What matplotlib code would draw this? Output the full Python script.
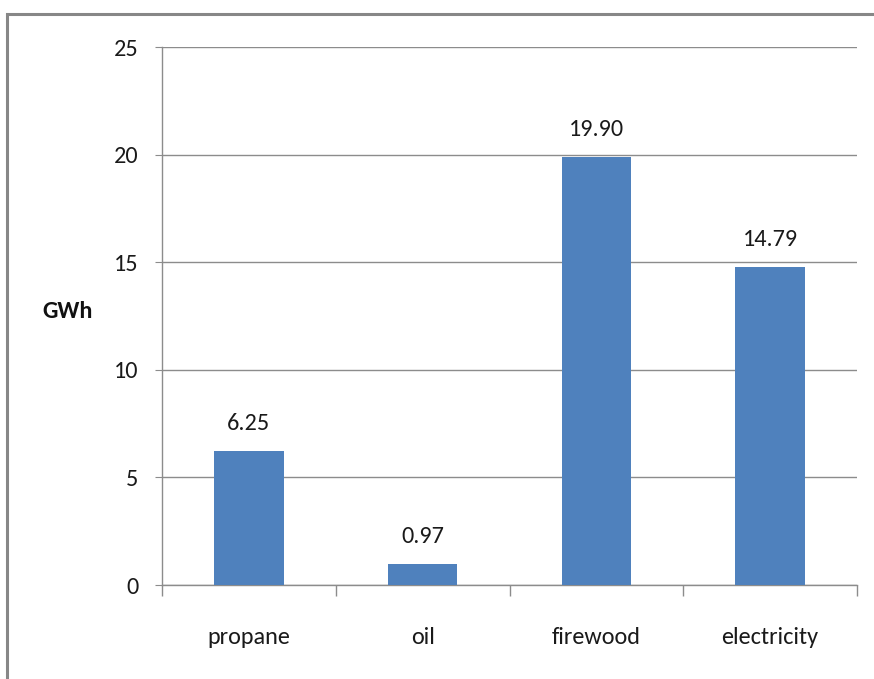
import matplotlib
matplotlib.use("Agg")
import matplotlib.pyplot as plt
from matplotlib import font_manager
from matplotlib.patches import Rectangle

categories = ["propane", "oil", "firewood", "electricity"]
values = [6.25, 0.97, 19.90, 14.79]
y_ticks = [0, 5, 10, 15, 20, 25]

names = {f.name for f in font_manager.fontManager.ttflist}
font = "Carlito" if "Carlito" in names else "DejaVu Sans"
plt.rcParams["font.family"] = [font, "DejaVu Sans"]

W, H = 874, 679
FS = 17.5
fig = plt.figure(figsize=(W / 100, H / 100), dpi=100)

# outer chart frame
fig.patches.append(Rectangle((7 / W, -0.1), 1.0, 1 - 13.5 / H + 0.1,
                             transform=fig.transFigure, fill=False,
                             edgecolor="#878787", linewidth=2.2))

left, right, top, bottom = 162, 857, 47, 585
ax = fig.add_axes([left / W, 1 - bottom / H, (right - left) / W, (bottom - top) / H])

x = list(range(len(categories)))
ax.bar(x, values, width=0.4, color="#4F81BD", zorder=3)
for xi, v in zip(x, values):
    ax.annotate(f"{v:.2f}", (xi, v), xytext=(0, 12), textcoords="offset points",
                ha="center", va="bottom", fontsize=FS, color="#1a1a1a")

ax.set_xlim(-0.5, len(categories) - 0.5)
ax.set_ylim(0, 25)
ax.set_yticks(y_ticks)
ax.set_yticklabels([str(t) for t in y_ticks], fontsize=FS, color="#1a1a1a")
ax.yaxis.grid(True, color="#8c8c8c", linewidth=1.0, zorder=0)
ax.tick_params(axis="y", length=5, color="#8c8c8c", pad=12)

ax.set_xticks(x)
ax.set_xticklabels(categories, fontsize=FS, color="#1a1a1a")
ax.tick_params(axis="x", length=0, pad=30)
# category separators below the axis
ax.set_xticks([i - 0.5 for i in range(len(categories) + 1)], minor=True)
ax.tick_params(axis="x", which="minor", length=8, color="#8c8c8c", width=1.0)

for s in ["top", "right"]:
    ax.spines[s].set_visible(False)
for s in ["left", "bottom"]:
    ax.spines[s].set_color("#8c8c8c")
    ax.spines[s].set_linewidth(1.0)

fig.text(42 / W, 1 - 312 / H, "GWh", fontsize=FS, fontweight="bold",
         ha="left", va="center", color="#111111")

fig.savefig("out.png", dpi=100)
